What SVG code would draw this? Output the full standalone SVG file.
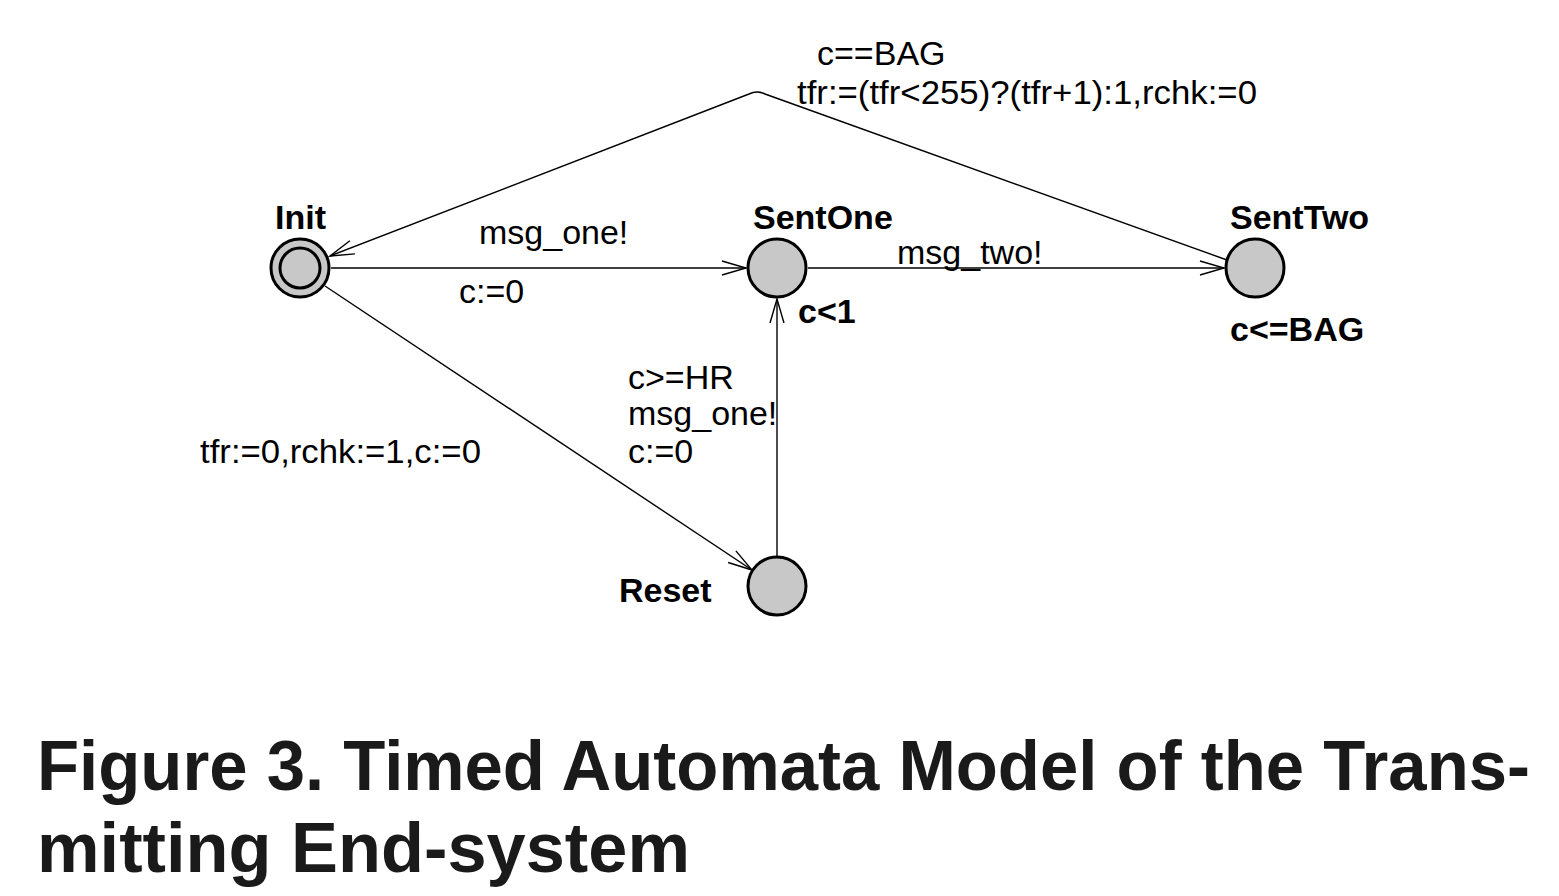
<svg xmlns="http://www.w3.org/2000/svg" width="1559" height="896" viewBox="0 0 1559 896">
<style>
.node{fill:#c8c8c8;stroke:#000;stroke-width:3}
.edge{fill:none;stroke:#000;stroke-width:1.4}
.lbl{font-family:"Liberation Sans",Arial,sans-serif;font-size:34px;fill:#000}
.name{font-family:"Liberation Sans",Arial,sans-serif;font-size:34px;font-weight:bold;fill:#000}
.title{font-family:"Liberation Sans",Arial,sans-serif;font-size:70px;font-weight:bold;fill:#1a1a1a}
</style>
<defs>
<marker id="arr" markerUnits="userSpaceOnUse" markerWidth="30" markerHeight="20" viewBox="-26 -10 30 20" refX="0" refY="0" orient="auto">
<path d="M-24,-7 L0,0 L-24,7" fill="none" stroke="#000" stroke-width="1.4"/>
</marker>
</defs>
<rect width="1559" height="896" fill="#fff"/>
<g id="connectors">
<path class="edge" d="M331,268 L746,268" marker-end="url(#arr)"/>
<path class="edge" d="M808,268 L1224,268" marker-end="url(#arr)"/>
<path class="edge" d="M325,286 L752,570" marker-end="url(#arr)"/>
<path class="edge" d="M777,556 L777,299" marker-end="url(#arr)"/>
<path class="edge" d="M1227,260 L765,94 Q757,90 749,94 L330,256" marker-end="url(#arr)"/>
</g>
<g id="edge-labels">
<text class="lbl" x="817" y="65">c==BAG</text>
<text class="lbl" x="797" y="104" textLength="460" lengthAdjust="spacingAndGlyphs">tfr:=(tfr&lt;255)?(tfr+1):1,rchk:=0</text>
<text class="lbl" x="479" y="244">msg_one!</text>
<text class="lbl" x="459" y="303">c:=0</text>
<text class="lbl" x="897" y="264">msg_two!</text>
<text class="lbl" x="628" y="389">c&gt;=HR</text>
<text class="lbl" x="628" y="425">msg_one!</text>
<text class="lbl" x="628" y="463">c:=0</text>
<text class="lbl" x="200" y="463" textLength="281" lengthAdjust="spacingAndGlyphs">tfr:=0,rchk:=1,c:=0</text>
</g>
<g id="node-init">
<circle class="node" cx="300" cy="268" r="29"/>
<circle class="node" cx="300" cy="268" r="20"/>
<text class="name" x="275" y="229">Init</text>
</g>
<g id="node-sentone">
<circle class="node" cx="777" cy="268" r="29"/>
<text class="name" x="753" y="229">SentOne</text>
<text class="name" x="798" y="323">c&lt;1</text>
</g>
<g id="node-senttwo">
<circle class="node" cx="1255" cy="268" r="29"/>
<text class="name" x="1230" y="229">SentTwo</text>
<text class="name" x="1230" y="341">c&lt;=BAG</text>
</g>
<g id="node-reset">
<circle class="node" cx="777" cy="586" r="29"/>
<text class="name" x="619" y="602">Reset</text>
</g>
<g id="caption">
<text class="title" x="37" y="790" textLength="1493" lengthAdjust="spacingAndGlyphs">Figure 3. Timed Automata Model of the Trans-</text>
<text class="title" x="37" y="872" textLength="653" lengthAdjust="spacingAndGlyphs">mitting End-system</text>
</g>
</svg>
